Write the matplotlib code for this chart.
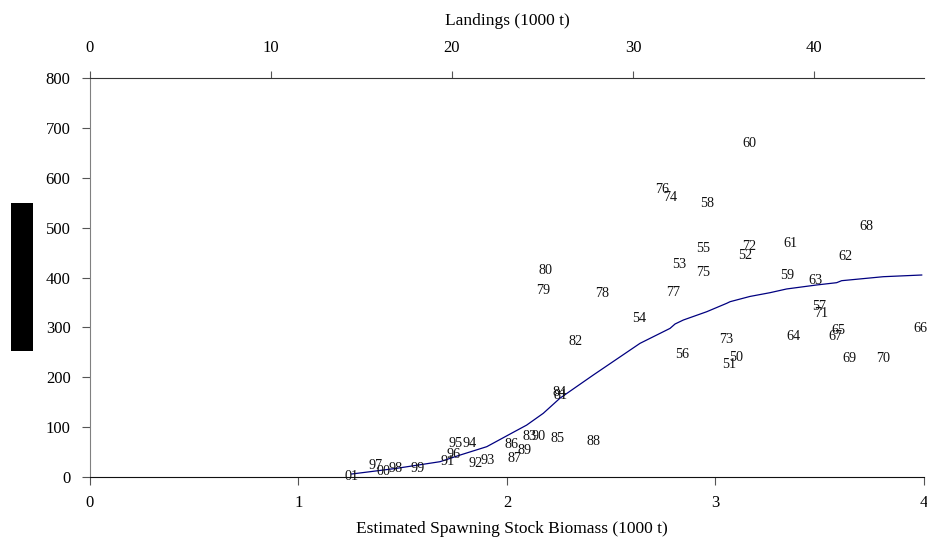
import matplotlib
matplotlib.use("Agg")
import matplotlib.pyplot as plt
from matplotlib.patches import Rectangle

FONT = "Liberation Serif"

# year labels placed at (SSB, recruitment)
years = ["01", "97", "00", "98", "99", "91", "96", "95", "94", "92",
         "93", "86", "87", "89", "83", "90", "85", "88", "84", "81",
         "82", "80", "79", "78", "77", "54", "56", "53", "75", "55",
         "76", "74", "58", "60", "72", "52", "61", "68", "62", "73",
         "50", "51", "59", "63", "57", "71", "64", "67", "65", "66",
         "69", "70"]
ssb = [1.255, 1.370, 1.407, 1.466, 1.570, 1.714, 1.746, 1.755, 1.819, 1.847,
       1.907, 2.023, 2.034, 2.083, 2.110, 2.150, 2.243, 2.414, 2.251, 2.258,
       2.330, 2.186, 2.174, 2.454, 2.798, 2.635, 2.838, 2.825, 2.939, 2.939,
       2.742, 2.782, 2.958, 3.162, 3.161, 3.141, 3.361, 3.725, 3.621, 3.049,
       3.098, 3.066, 3.344, 3.477, 3.498, 3.506, 3.373, 3.573, 3.589, 3.984,
       3.642, 3.805]
recruits = [1, 24, 11, 17, 17, 31, 46, 68, 68, 28,
            33, 66, 38, 54, 82, 82, 78, 71, 170, 164,
            271, 415, 374, 367, 370, 318, 246, 426, 410, 459,
            577, 561, 549, 669, 462, 444, 469, 503, 443, 275,
            239, 226, 404, 394, 342, 327, 281, 281, 293, 298,
            238, 238]

# fitted curve
line_ssb = [1.255, 1.343, 1.471, 1.679, 1.775, 1.903, 2.030, 2.094, 2.174, 2.254,
            2.414, 2.638, 2.782, 2.806, 2.846, 2.958, 3.054, 3.070, 3.165, 3.261,
            3.341, 3.485, 3.581, 3.605, 3.805, 3.989]
line_val = [6, 10.6, 17.4, 30.7, 44, 60.8, 89.6, 104, 127.7, 158,
            204.5, 268, 298, 306.8, 314.8, 331.4, 348.3, 351.5, 362, 369.5,
            377, 385, 389.6, 393.6, 401.6, 405]

landing_ticks = [0, 10, 20, 30, 40]

W, H = 928, 537
fig = plt.figure(figsize=(W / 100, H / 100), dpi=100)
left, right, top, bottom = 90, 924, 78, 477
ax = fig.add_axes([left / W, 1 - bottom / H, (right - left) / W, (bottom - top) / H])

ax.plot(line_ssb, line_val, color="#000080", lw=0.9)
for y, sx, r in zip(years, ssb, recruits):
    ax.text(sx, r, y, ha="center", va="center", fontsize=10.2, family=FONT, color="#111111")

ax.set_xlim(0, 4)
ax.set_ylim(0, 800)
ax.set_xticks([0, 1, 2, 3, 4])
ax.set_yticks(range(0, 801, 100))
for s in ["top", "right"]:
    ax.spines[s].set_visible(False)
ax.spines["left"].set_color("#808080")
ax.spines["bottom"].set_color("#111111")
ax.tick_params(axis="x", direction="out", length=6, pad=7, labelsize=12, color="#555555")
ax.tick_params(axis="y", direction="out", length=6, pad=8, labelsize=12, color="#555555")
for lab in ax.get_xticklabels() + ax.get_yticklabels():
    lab.set_family(FONT)

# top axis for landings
ax2 = ax.twiny()
ax2.set_xlim(0, (right - left) / 18.1)
ax2.set_xticks(landing_ticks)
for s in ["bottom", "right", "left"]:
    ax2.spines[s].set_visible(False)
ax2.spines["top"].set_color("#333333")
ax2.tick_params(axis="x", direction="out", length=5, pad=11, labelsize=12, color="#555555")
for lab in ax2.get_xticklabels():
    lab.set_family(FONT)

fig.text(507 / W, 1 - 21 / H, "Landings (1000 t)", ha="center", va="center",
         fontsize=12.5, family=FONT)
fig.text(512 / W, 1 - 521 / H, "Estimated Spawning Stock Biomass (1000 t)", ha="center",
         va="top", fontsize=12.5, family=FONT)

# black box over the y label
fig.patches.append(Rectangle((11 / W, 1 - 351 / H), 22 / W, 148 / H, transform=fig.transFigure,
                             facecolor="black", edgecolor="none"))

fig.savefig("out.png", dpi=100)
